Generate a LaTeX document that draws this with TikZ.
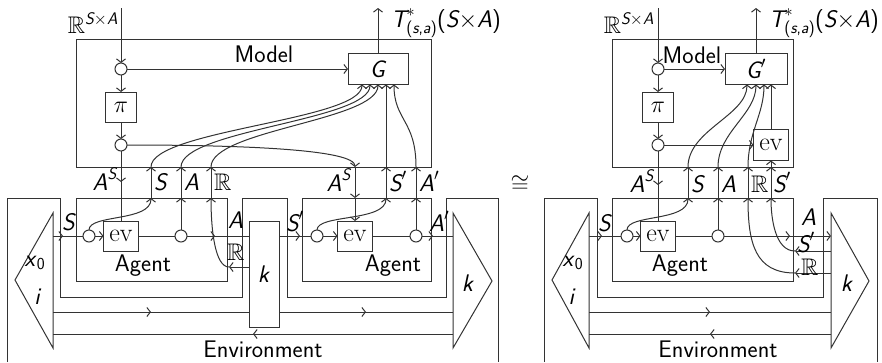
\RequirePackage{fix-cm}
\documentclass[tikz,border=0pt]{standalone}
\usepackage{amsmath,amssymb}
\usetikzlibrary{arrows.meta,calc,decorations.markings}
\newcommand{\sv}[1]{\textsf{\slshape #1}}
\begin{document}
\begin{tikzpicture}[x=1pt,y=-1pt,
  >={Straight Barb[length=3.5pt,width=9pt,line width=1pt]},
  wire/.style={draw=black!80, line width=1pt},
  framebox/.style={draw=black!80, line width=1pt, inner sep=0pt, outer sep=0pt},
  box/.style={draw=black!80, line width=1pt, inner sep=0pt, outer sep=0pt, fill=white, font=\fontsize{24}{28}\selectfont},
  cp/.style={circle, draw=black!80, line width=1pt, fill=white, minimum size=12pt, inner sep=0pt, outer sep=0pt},
  lab/.style={inner sep=0pt, outer sep=0pt, font=\fontsize{24}{28}\selectfont},
  am/.style={postaction={decorate,decoration={markings,mark=at position #1 with {\arrow{>}}}}},
]
\useasboundingbox (0,0) rectangle (882,362);

% ================= LEFT PANEL =================
% environment
\draw[wire] (7,362) -- (7,198) -- (60,198) -- (60,297) -- (242,297) -- (242,198)
  -- (287,198) -- (287,297) -- (446,297) -- (446,198) -- (498,198) -- (498,362);
\draw[wire] (53,213) -- (15,280) -- (53,348) -- cycle;
\draw[wire] (453,213) -- (492,281) -- (453,348) -- cycle;
\node[lab] (x0L) at (35,263) {\sv{x}$_{\textsf{0}}$};
\node[lab] (iL) at (38,297) {\sv{i}};
\node[lab] (kTL) at (468,283) {\sv{k}};
\node[lab, anchor=base] (envL) at (263,357) {\sffamily Environment};

% model
\node[framebox, minimum width=355pt, minimum height=128pt] (modelL) at (253.5,103) {};
\node[lab, anchor=base] (modelLlab) at (264,62) {\sffamily Model};
\coordinate (inL) at (121,8);
\coordinate (outL) at (378,8);
\node[cp] (cpL1) at (121,69) {};
\node[box, minimum width=31pt, minimum height=30pt] (piL) at (121,107) {$\pi$};
\node[cp] (cpL2) at (121,145) {};
\node[box, minimum width=60pt, minimum height=31pt] (GL) at (378,69) {\sv{G}};
\node[lab, anchor=base east] (inLlab) at (118,33) {$\mathbb{R}^{\sv{S}\times\sv{A}}$};
\node[lab, anchor=base west] (outLlab) at (391,27) {$\sv{T}^{*}_{\textsf{(}\sv{s}\textsf{,}\sv{a}\textsf{)}}\textsf{(}\sv{S}{\times}\sv{A}\textsf{)}$};

% agents
\node[framebox, minimum width=151pt, minimum height=83pt] (agL1) at (151.5,239.5) {};
\node[framebox, minimum width=129pt, minimum height=83pt] (agL2) at (366.5,239.5) {};
\node[lab, anchor=base] (agL1lab) at (143,271) {\sffamily Agent};
\node[lab, anchor=base] (agL2lab) at (393,271) {\sffamily Agent};
\node[box, minimum width=35pt, minimum height=30pt] (evL1) at (121,236) {\fontsize{26}{30}\selectfont ev};
\node[box, minimum width=35pt, minimum height=30pt] (evL2) at (355,236) {\fontsize{26}{30}\selectfont ev};
\node[cp] (cpLa) at (89,236) {};
\node[cp] (cpLb) at (181,236) {};
\node[cp] (cpLc) at (317,236) {};
\node[cp] (cpLd) at (416,236) {};
\node[box, minimum width=30pt, minimum height=106pt] (kbox) at (264,274) {\sv{k}};

% coordinates
\coordinate (triLo) at (53,236);
\coordinate (triLi) at (453,236);
\coordinate (aSt) at (151,198); \coordinate (aSb) at (151,167);
\coordinate (aAt) at (181,198); \coordinate (aAb) at (181,167);
\coordinate (aRt) at (211,198); \coordinate (aRb) at (211,167);
\coordinate (bSt) at (386,198); \coordinate (bSb) at (386,167);
\coordinate (bAt) at (416,198); \coordinate (bAb) at (416,167);
\coordinate (bASt) at (355,198); \coordinate (bASb) at (355,167);
\coordinate (kR) at ([yshift=7pt]kbox.west);
\coordinate (aRin) at (229,267);
\coordinate (eA) at (53,312); \coordinate (eB) at (453,312);
\coordinate (eC) at (453,334); \coordinate (eD) at (53,334);

% model wires
\draw[wire,->] (inL) -- (cpL1);
\draw[wire,->] (cpL1) -- (piL);
\draw[wire,->] (piL) -- (cpL2);
\draw[wire,->] (cpL1) -- (GL);
\draw[wire,->] (GL) -- (outL);
\draw[wire, am=31pt] (cpL2) -- (evL1);
\draw[wire,->] (cpL2) .. controls (250,145) and (355,150) .. (bASb);
\draw[wire,->] (bASb) -- (bASt);
\draw[wire,->] (bASt) -- (evL2);

% main line
\draw[wire, am=10pt] (triLo) -- (cpLa);
\draw[wire,->] (cpLa) -- (evL1);
\draw[wire] (evL1) -- (cpLb);
\draw[wire, am=28pt] (cpLb) -- (kbox.west |- cpLb);
\draw[wire, am=21pt] (kbox.east |- cpLc) -- (cpLc);
\draw[wire,->] (cpLc) -- (evL2);
\draw[wire] (evL2) -- (cpLd);
\draw[wire, am=11pt] (cpLd) -- (triLi);

% S, A, R wires
\draw[wire,->] (cpLa.north) .. controls +(0,-16) and +(0,24) .. (aSt);
\draw[wire,->] (aSt) -- (aSb);
\draw[wire,->] (aSb) .. controls +(0,-37) and +(0,36) .. ([xshift=-16pt]GL.south);
\draw[wire,->] (cpLb) -- (aAt);
\draw[wire,->] (aAt) -- (aAb);
\draw[wire,->] (aAb) .. controls +(0,-37) and +(0,36) .. ([xshift=-8pt]GL.south);
\draw[wire,->] (kR) -- (aRin);
\draw[wire,->] (aRin) .. controls +(-14,0) and +(0,32) .. (aRt);
\draw[wire,->] (aRt) -- (aRb);
\draw[wire,->] (aRb) .. controls +(0,-37) and +(0,36) .. (GL.south);
\draw[wire,->] (cpLc.north) .. controls +(0,-16) and +(0,24) .. (bSt);
\draw[wire,->] (bSt) -- (bSb);
\draw[wire,->] (bSb) -- ([xshift=8pt]GL.south);
\draw[wire,->] (cpLd) -- (bAt);
\draw[wire,->] (bAt) -- (bAb);
\draw[wire,->] (bAb) .. controls +(0,-47) and +(0,36) .. ([xshift=16pt]GL.south);

% environment lines
\draw[wire, am=0.5] (eA) -- (eA -| kbox.west);
\draw[wire, am=0.5] (eA -| kbox.east) -- (eB);
\draw[wire, am=0.5] (eC) -- (eD);

% labels
\node[lab, anchor=base east] (lAS1) at (117,190) {$\sv{A}^{\sv{S}}$};
\node[lab, anchor=base west] (lS1) at (154,190) {\sv{S}};
\node[lab, anchor=base west] (lA1) at (184,190) {\sv{A}};
\node[lab, anchor=base west] (lR1) at (214,190) {$\mathbb{R}$};
\node[lab, anchor=base east] (lAS2) at (351,191) {$\sv{A}^{\sv{S}}$};
\node[lab, anchor=base west] (lS2) at (389,191) {$\sv{S}'$};
\node[lab, anchor=base west] (lA2) at (419,191) {$\sv{A}'$};
\node[lab, anchor=base west] (mS) at (62,230) {\sv{S}};
\node[lab, anchor=base west] (mA) at (228,228) {\sv{A}};
\node[lab, anchor=base west] (mSp) at (286,231) {$\sv{S}'$};
\node[lab, anchor=base west] (mAp) at (429,231) {$\sv{A}'$};
\node[lab, anchor=base west] (mR) at (227,260) {$\mathbb{R}$};

% iso
\node[lab] (iso) at (520,184) {$\cong$};

% ================= RIGHT PANEL =================
\draw[wire] (544,362) -- (544,198) -- (597,198) -- (597,297) -- (823,297) -- (823,198) -- (877,198) -- (877,362);
\draw[wire] (589,213) -- (552,280) -- (589,348) -- cycle;
\draw[wire] (831,213) -- (869,281) -- (831,348) -- cycle;
\node[lab] (x0R) at (573,263) {\sv{x}$_{\textsf{0}}$};
\node[lab] (iR) at (572,297) {\sv{i}};
\node[lab] (kTR) at (847,283) {\sv{k}};
\node[lab, anchor=base] (envR) at (718,357) {\sffamily Environment};

\node[framebox, minimum width=181pt, minimum height=128pt] (modelR) at (702.5,103) {};
\node[lab, anchor=base] (modelRlab) at (692,63) {\sffamily Model};
\coordinate (inR) at (658,8);
\coordinate (outR) at (756,8);
\node[cp] (cpR1) at (658,69) {};
\node[box, minimum width=31pt, minimum height=30pt] (piR) at (658,107) {$\pi$};
\node[cp] (cpR2) at (658,145) {};
\node[box, minimum width=62pt, minimum height=31pt] (GR) at (756,69) {$\sv{G}'$};
\node[box, minimum width=35pt, minimum height=31pt] (evM) at (771,145) {\fontsize{26}{30}\selectfont ev};
\node[lab, anchor=base east] (inRlab) at (654,33) {$\mathbb{R}^{\sv{S}\times\sv{A}}$};
\node[lab, anchor=base west] (outRlab) at (769,27) {$\sv{T}^{*}_{\textsf{(}\sv{s}\textsf{,}\sv{a}\textsf{)}}\textsf{(}\sv{S}{\times}\sv{A}\textsf{)}$};

\node[framebox, minimum width=181pt, minimum height=83pt] (agR) at (702.5,239.5) {};
\node[lab, anchor=base] (agRlab) at (680,271) {\sffamily Agent};
\node[box, minimum width=35pt, minimum height=30pt] (evA) at (658,236) {\fontsize{26}{30}\selectfont ev};
\node[cp] (cA) at (627,236) {};
\node[cp] (cB) at (718,236) {};

\coordinate (triRo) at (589,236);
\coordinate (triRi) at (831,236);
\coordinate (rSt) at (688,198); \coordinate (rSb) at (688,167);
\coordinate (rAt) at (718,198); \coordinate (rAb) at (718,167);
\coordinate (rRt) at (748,198); \coordinate (rRb) at (748,167);
\coordinate (rPt) at (771,198); \coordinate (rPb) at (771,167);
\coordinate (rRk) at (831,273); \coordinate (rRin) at (795,273);
\coordinate (rPk) at (831,251); \coordinate (rPin) at (795,251);
\coordinate (fA) at (589,312); \coordinate (fB) at (831,312);
\coordinate (fC) at (831,334); \coordinate (fD) at (589,334);

\draw[wire,->] (inR) -- (cpR1);
\draw[wire,->] (cpR1) -- (piR);
\draw[wire,->] (piR) -- (cpR2);
\draw[wire,->] (cpR1) -- (GR);
\draw[wire,->] (GR) -- (outR);
\draw[wire,->] (cpR2) -- (evM);
\draw[wire,->] (evM) -- (evM.north |- GR.south);
\draw[wire, am=34pt] (cpR2) -- (evA);

\draw[wire, am=13pt] (triRo) -- (cA);
\draw[wire,->] (cA) -- (evA);
\draw[wire] (evA) -- (cB);
\draw[wire, am=66pt, ->] (cB) -- (triRi);

\draw[wire,->] (cA.north) .. controls +(0,-16) and +(0,24) .. (rSt);
\draw[wire,->] (rSt) -- (rSb);
\draw[wire,->] (rSb) .. controls +(0,-37) and +(0,31) .. ([xshift=-9pt]GR.south);
\draw[wire,->] (cB) -- (rAt);
\draw[wire,->] (rAt) -- (rAb);
\draw[wire,->] (rAb) .. controls +(0,-35) and +(0,30) .. (GR.south);
\draw[wire,->] (rRk) -- (rRin);
\draw[wire,->] (rRin) .. controls +(-40,0) and +(0,45) .. (rRt);
\draw[wire,->] (rRt) -- (rRb);
\draw[wire,->] (rRb) .. controls +(0,-35) and +(0,30) .. ([xshift=8pt]GR.south);
\draw[wire,->] (rPk) -- (rPin);
\draw[wire,->] (rPin) .. controls +(-20,0) and +(0,20) .. (rPt);
\draw[wire,->] (rPt) -- (rPb);
\draw[wire,->] (rPb) -- (evM);

\draw[wire, am=0.5] (fA) -- (fB);
\draw[wire, am=0.5] (fC) -- (fD);

\node[lab, anchor=base east] (rlAS) at (654,192) {$\sv{A}^{\sv{S}}$};
\node[lab, anchor=base west] (rlS) at (691,192) {\sv{S}};
\node[lab, anchor=base west] (rlA) at (721,192) {\sv{A}};
\node[lab, anchor=base west] (rlR) at (751,192) {$\mathbb{R}$};
\node[lab, anchor=base west] (rlP) at (773,192) {$\sv{S}'$};
\node[lab, anchor=base west] (rmS) at (598,231) {\sv{S}};
\node[lab, anchor=base west] (rmA) at (801,225) {\sv{A}};
\node[lab, anchor=base west] (rmP) at (797,252) {$\sv{S}'$};
\node[lab, anchor=base west] (rmR) at (801,275) {$\mathbb{R}$};
\end{tikzpicture}
\end{document}
